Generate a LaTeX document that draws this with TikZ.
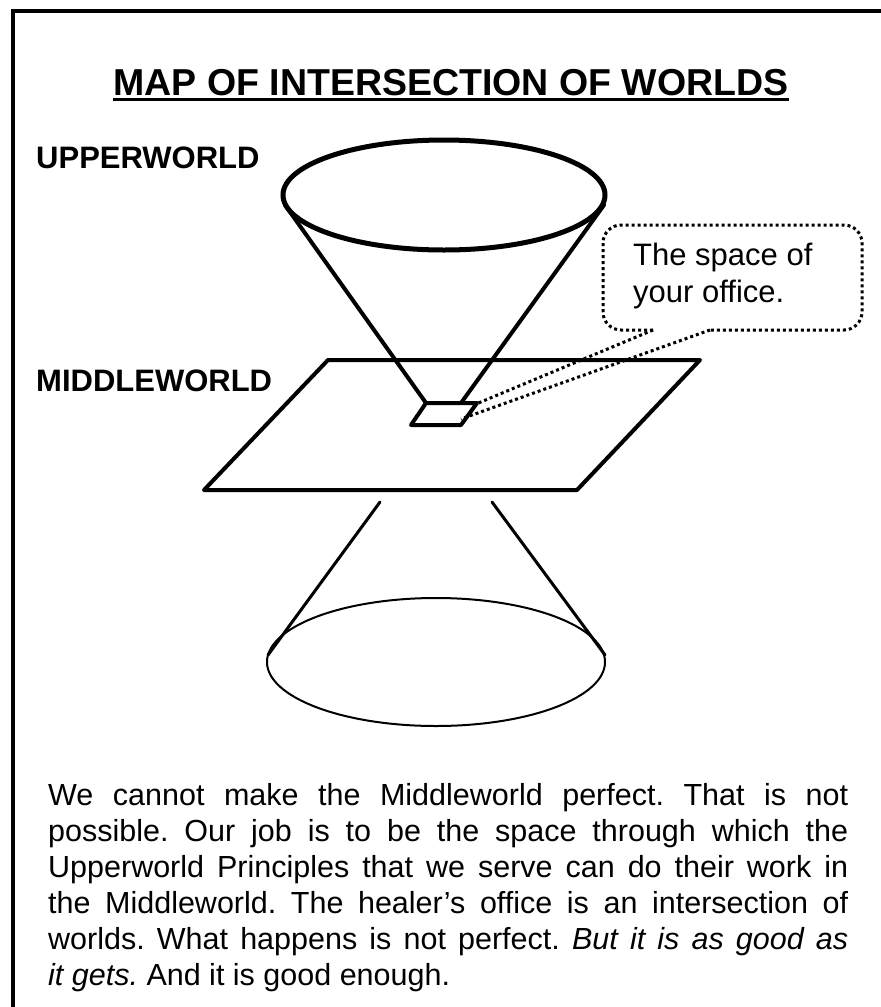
\documentclass[tikz,border=0pt]{standalone}
\usepackage{fontspec}
\setmainfont{Liberation Sans}
\frenchspacing
\begin{document}
\frenchspacing
\begin{tikzpicture}[x=1pt,y=-1pt,
  frameline/.style={line width=4pt},
  thickring/.style={line width=5pt},
  conestroke/.style={line width=4pt, line cap=round, line join=round},
  planestroke/.style={line width=4pt, line join=round, line cap=round},
  lowcone/.style={line width=3pt, line cap=round},
  thinring/.style={line width=2pt},
  calloutline/.style={line width=3pt, dash pattern=on 3pt off 3pt},
  worldlabel/.style={inner sep=0pt, anchor=base west, font=\fontsize{31}{37}\selectfont\bfseries},
  bodytext/.style={inner sep=0pt, anchor=base west, font=\fontsize{30.5}{36}\selectfont},
  callouttext/.style={inner sep=0pt, anchor=base west, font=\fontsize{31}{37}\selectfont},
]
\clip (0,0) rectangle (881,1007);
\fill[white] (0,0) rectangle (881,1007);
\draw[frameline] (13,11) rectangle (1000,1100);

% title
\node[inner sep=0pt, anchor=base, font=\fontsize{37.5}{45}\selectfont\bfseries] (title) at (451,95) {MAP OF INTERSECTION OF WORLDS};
\draw[line width=3pt] ([yshift=-4.5pt]title.base west) -- ([yshift=-4.5pt]title.base east);

% labels
\node[worldlabel] (upper) at (36,168) {UPPERWORLD};
\node[worldlabel] (middle) at (36,391) {MIDDLEWORLD};

% upper cone
\coordinate (uc) at (444,195);
\coordinate (uL) at (285,205);
\coordinate (uR) at (604,205);
\coordinate (oTL) at (426,403);
\coordinate (oTR) at (477,403);
\coordinate (oBR) at (461,425);
\coordinate (oBL) at (411,425);
\coordinate (oR) at (461,403);

% plane
\coordinate (pTL) at (328,360);
\coordinate (pTR) at (700,360);
\coordinate (pBR) at (577,490);
\coordinate (pBL) at (204,490);
\draw[planestroke] (pTL) -- (pTR) -- (pBR) -- (pBL) -- cycle;

\draw[thickring] (uc) ellipse [x radius=161pt, y radius=55pt];
\draw[conestroke] (uL) -- (oTL);
\draw[conestroke] (uR) -- (oR);
\draw[planestroke] (oTL) -- (oTR) -- (oBR) -- (oBL) -- cycle;

% lower cone
\coordinate (lc) at (436,662);
\coordinate (lL1) at (380,502);
\coordinate (lL2) at (268,655);
\coordinate (lR1) at (492,502);
\coordinate (lR2) at (605,655);
\draw[lowcone] (lL1) -- (lL2);
\draw[lowcone] (lR1) -- (lR2);
\draw[thinring] (lc) ellipse [x radius=169pt, y radius=64pt];

% callout
\node[callouttext] (c1) at (633,265) {The space of};
\node[callouttext] (c2) at (633,302) {your office.};
\coordinate (cA) at (653,330);
\coordinate (cB) at (710,330);
\coordinate (tipA) at (476,404);
\coordinate (tipB) at (461,419);
\draw[calloutline, rounded corners=18pt] (cA) -- (603,330) -- (603,225) -- (862,225) -- (862,330) -- (cB);
\draw[calloutline] (cA) -- (tipA);
\draw[calloutline] (cB) -- (tipB);

% body text
\node[bodytext] (b1) at (48,805) {\makebox[800pt][s]{We cannot make the Middleworld perfect. That is not}};
\node[bodytext] (b2) at (48,841) {\makebox[800pt][s]{possible. Our job is to be the space through which the}};
\node[bodytext] (b3) at (48,877) {\makebox[800pt][s]{Upperworld Principles that we serve can do their work in}};
\node[bodytext] (b4) at (48,913) {\makebox[800pt][s]{the Middleworld. The healer’s office is an intersection of}};
\node[bodytext] (b5) at (48,949) {\makebox[800pt][s]{worlds. What happens is not perfect. \textit{But it is as good as}}};
\node[bodytext] (b6) at (48,985) {\textit{it gets.} And it is good enough.};
\end{tikzpicture}
\end{document}
